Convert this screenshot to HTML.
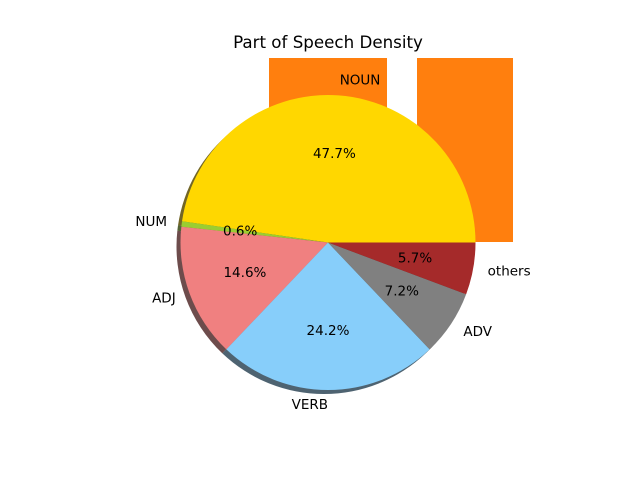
<!DOCTYPE html>
<html><head><meta charset="utf-8"><style>
html,body{margin:0;padding:0;background:#fff}
svg text{font-family:"DejaVu Sans","Liberation Sans",sans-serif}
</style></head><body>
<svg id="chart" width="640" height="480" viewBox="0 0 640 480">
<rect x="0" y="0" width="640" height="480" fill="#fff"/>
<text x="328" y="48" text-anchor="middle" font-size="16.7">Part of Speech Density</text>
<rect x="269" y="58" width="118" height="184" fill="#ff7f0e"/>
<rect x="417" y="58" width="96" height="184" fill="#ff7f0e"/>
<g id="shadows"></g>
<g id="slices"></g>
<g id="labels"></g>
</svg>
<script>
const categories = ["NOUN","NUM","ADJ","VERB","ADV","others"];
const values = [47.7,0.6,14.6,24.2,7.2,5.7];
const pctLabels = ["47.7%","0.6%","14.6%","24.2%","7.2%","5.7%"];
const colors = ["#ffd700","#9acd32","#f08080","#87cefa","#808080","#a52a2a"];

const cx=328, cy=242.5, r=147.5, NS="http://www.w3.org/2000/svg";
const total=values.reduce((a,b)=>a+b,0);
function pt(a,rad,ox,oy){return [cx+ox+rad*Math.cos(a), cy+oy-rad*Math.sin(a)];}
function arcPath(a0,a1,ox,oy){
  const p0=pt(a0,r,ox,oy), p1=pt(a1,r,ox,oy);
  const large=(a1-a0)>Math.PI?1:0;
  return `M${cx+ox},${cy+oy} L${p0[0]},${p0[1]} A${r},${r} 0 ${large} 0 ${p1[0]},${p1[1]} Z`;
}
function dark(c){const n=parseInt(c.slice(1),16);const f=v=>Math.round(v*0.35);
  return `rgb(${f(n>>16)},${f((n>>8)&255)},${f(n&255)})`;}
const sh=document.getElementById('shadows'), sl=document.getElementById('slices'), lb=document.getElementById('labels');
let a=0;
values.forEach((v,i)=>{
  const a0=a, a1=a+v/total*2*Math.PI; a=a1;
  const s=document.createElementNS(NS,'path');
  s.setAttribute('d',arcPath(a0,a1,-4,4));
  s.setAttribute('fill',dark(colors[i]));
  s.setAttribute('opacity','0.85');
  
  
  sh.appendChild(s);
  const p=document.createElementNS(NS,'path');
  p.setAttribute('d',arcPath(a0,a1,0,0));
  p.setAttribute('fill',colors[i]);
  
  
  sl.appendChild(p);
  const m=(a0+a1)/2;
  const lp=pt(m,r*1.1,0,0);
  const t=document.createElementNS(NS,'text');
  t.setAttribute('x',lp[0]); t.setAttribute('y',lp[1]+4);
  t.setAttribute('font-size','13.5');
  t.setAttribute('text-anchor',Math.cos(m)>=0?'start':'end');
  t.textContent=categories[i];
  
  
  lb.appendChild(t);
  const pp=pt(m,r*0.6,0,0);
  const q=document.createElementNS(NS,'text');
  q.setAttribute('x',pp[0]); q.setAttribute('y',pp[1]+4);
  q.setAttribute('font-size','13.5');
  q.setAttribute('text-anchor','middle');
  q.textContent=pctLabels[i];
  
  
  lb.appendChild(q);
});
</script>
</body></html>
